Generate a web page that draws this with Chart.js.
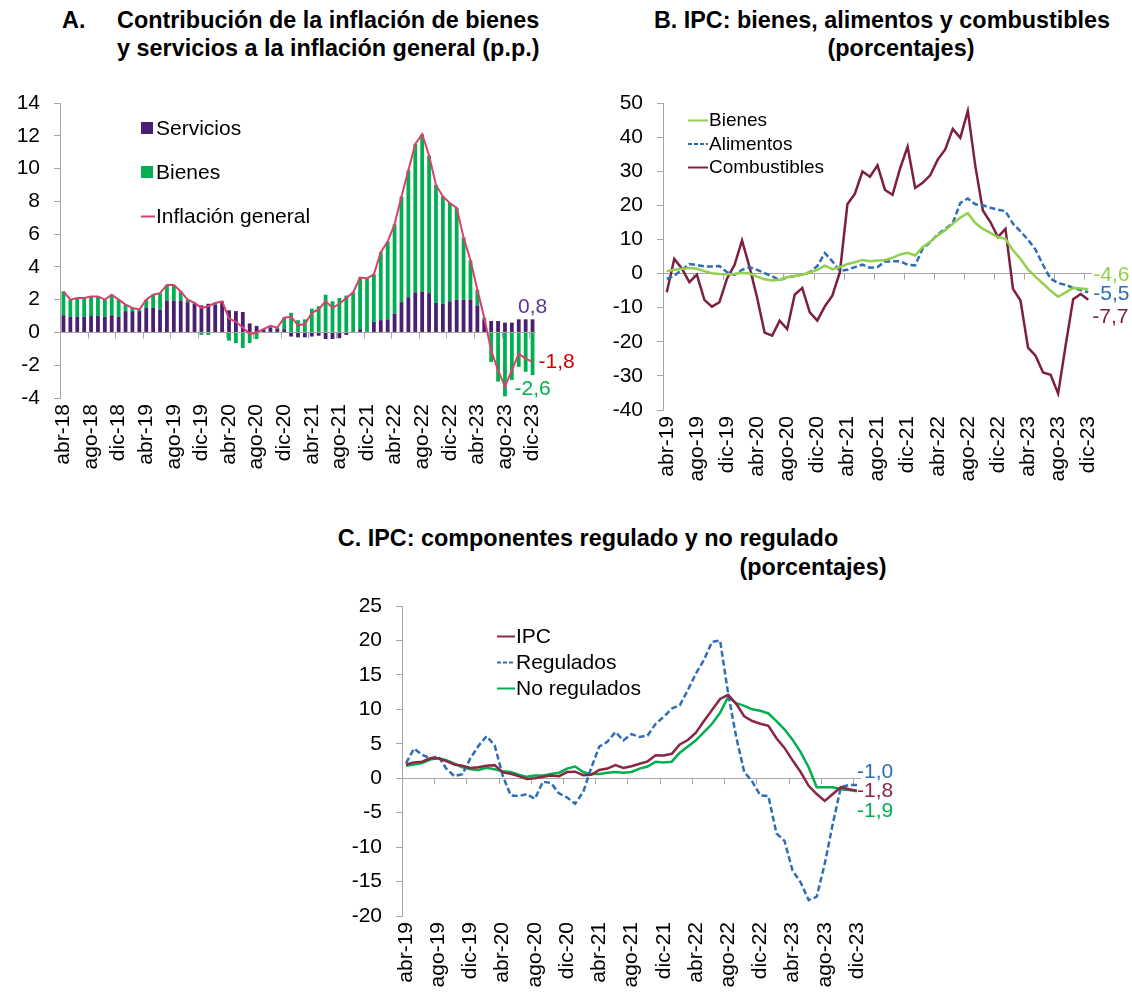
<!DOCTYPE html>
<html lang="es">
<head>
<meta charset="utf-8">
<title>Inflación: bienes, servicios y componentes</title>
<script src="https://cdn.jsdelivr.net/npm/chart.js@4.4.1/dist/chart.umd.min.js"></script>
<style>
  html, body { margin: 0; padding: 0; background: #fff; }
  body { position: relative; width: 1132px; height: 1000px; overflow: hidden; font-family: "Liberation Sans", Arial, sans-serif; }
  .ttl { position: absolute; font-weight: bold; font-size: 23.4px; line-height: 28px; white-space: nowrap; color: #000; }
  .ctr { width: 600px; text-align: center; }
  canvas { position: absolute; }
</style>
</head>
<body>
<div class="ttl" style="left:62px;top:6px">A.</div>
<div class="ttl" style="left:117px;top:6px">Contribución de la inflación de bienes</div>
<div class="ttl" style="left:117px;top:34px">y servicios a la inflación general (p.p.)</div>
<div class="ttl ctr" style="left:582px;top:6px">B. IPC: bienes, alimentos y combustibles</div>
<div class="ttl ctr" style="left:601px;top:34px">(porcentajes)</div>
<div class="ttl ctr" style="left:288px;top:524px">C. IPC: componentes regulado y no regulado</div>
<div class="ttl ctr" style="left:513px;top:553px">(porcentajes)</div>

<canvas id="chartA" width="600" height="400" style="left:0;top:90px;width:600px;height:400px"></canvas>
<canvas id="chartB" width="532" height="400" style="left:600px;top:90px;width:532px;height:400px"></canvas>
<canvas id="chartC" width="600" height="410" style="left:330px;top:590px;width:600px;height:410px"></canvas>

<script>
const MESES = ["ene", "feb", "mar", "abr", "may", "jun", "jul", "ago", "sep", "oct", "nov", "dic"];

// A: abr-18 .. dic-23 (p.p.)
const serviciosA = [
  1.05, 0.95, 0.95, 0.95, 1.0, 1.0, 0.95, 1.05, 0.95,
  1.3, 1.3, 1.3, 1.5, 1.5, 1.4, 1.95, 1.95, 1.95, 1.85, 1.75, 1.65,
  1.75, 1.7, 1.9, 1.35, 1.3, 1.25, 0.55, 0.4, 0.2, 0.3, 0.25, 0.2,
  -0.25, -0.3, -0.3, -0.25, -0.2, -0.4, -0.4, -0.35, -0.15, 0.0, 0.2, 0.05,
  0.65, 0.75, 0.8, 1.15, 1.85, 2.15, 2.45, 2.5, 2.4, 1.8, 1.75, 1.9,
  2.0, 2.0, 2.0, 1.65, 0.75, 0.7, 0.7, 0.6, 0.6, 0.8, 0.8, 0.8
];
const bienesA = [
  1.45, 1.05, 1.15, 1.15, 1.2, 1.2, 1.05, 1.25, 1.05,
  0.4, 0.2, 0.1, 0.5, 0.8, 1.0, 0.95, 0.95, 0.55, 0.15, 0.05, -0.15,
  -0.15, 0.1, 0.0, -0.5, -0.65, -0.95, -0.65, -0.4, 0.0, 0.1, 0.05, 0.7,
  1.2, 0.75, 0.8, 1.45, 1.6, 2.3, 1.9, 2.1, 2.25, 2.45, 3.15, 3.25,
  2.9, 4.15, 4.75, 5.45, 6.45, 7.75, 9.05, 9.6, 8.4, 7.2, 6.55, 6.0,
  5.6, 3.8, 2.4, 0.95, 0.15, -1.8, -3.0, -3.9, -2.9, -2.1, -2.4, -2.6
];
const generalA = [
  2.5, 2.0, 2.1, 2.1, 2.2, 2.2, 2.0, 2.3, 2.0,
  1.7, 1.5, 1.4, 2.0, 2.3, 2.4, 2.9, 2.9, 2.5, 2.0, 1.8, 1.5,
  1.6, 1.8, 1.9, 0.85, 0.65, 0.3, -0.1, 0.0, 0.2, 0.4, 0.3, 0.9,
  0.95, 0.45, 0.5, 1.2, 1.4, 1.9, 1.5, 1.75, 2.1, 2.45, 3.35, 3.3,
  3.55, 4.9, 5.55, 6.6, 8.3, 9.9, 11.5, 12.1, 10.8, 9.0, 8.3, 7.9,
  7.6, 5.8, 4.4, 2.6, 0.9, -1.1, -2.3, -3.3, -2.3, -1.3, -1.6, -1.8
];

// B: abr-19 .. dic-23 (%)
const bienesB = [
  0.7, 1.1, 1.4, 1.6, 1.4, 0.7, 0.1, -0.1, -0.2, -0.1,
  0.2, 0.0, -0.9, -1.7, -2.0, -1.8, -1.1, -0.7, -0.3, 0.3,
  1.1, 2.3, 1.3, 1.9, 2.8, 3.3, 4.0, 3.6, 3.8, 4.0,
  4.6, 5.6, 6.1, 5.3, 7.8, 9.3, 11.2, 12.7, 14.6, 16.4,
  17.7, 14.8, 13.1, 11.9, 10.7, 10.2, 6.8, 4.3, 1.2, -1.0,
  -3.0, -5.0, -6.8, -5.5, -4.2, -4.4, -4.6
];
const alimentosB = [
  -1.6, -0.6, 1.1, 2.8, 2.5, 2.1, 2.1, 2.2, 0.4, -0.4,
  1.1, 1.9, 1.1, 0.1, -0.8, -1.9, -1.1, -0.7, -0.3, 0.4,
  2.2, 6.0, 3.6, 0.8, 1.1, 1.9, 2.6, 1.7, 1.9, 3.5,
  3.6, 3.6, 2.6, 2.4, 7.3, 9.2, 11.5, 13.1, 14.8, 20.7,
  22.0, 20.3, 20.0, 19.3, 18.7, 18.3, 14.6, 12.4, 9.9, 7.0,
  2.5, -1.5, -2.8, -3.3, -4.2, -4.8, -5.5
];
const combustiblesB = [
  -5.5, 4.3, 1.5, -2.5, -0.3, -7.7, -9.7, -8.4, -1.5, 2.5,
  9.7, 1.9, -7.0, -17.3, -18.2, -13.8, -16.3, -6.2, -4.2, -11.4,
  -13.8, -9.6, -6.5, 0.4, 20.3, 23.4, 29.9, 28.4, 31.7, 24.5,
  23.1, 30.8, 37.2, 25.1, 26.6, 28.8, 33.4, 36.4, 42.4, 39.8,
  47.7, 31.5, 18.5, 15.1, 10.7, 13.1, -4.5, -7.9, -21.7, -24.1,
  -29.0, -29.7, -35.2, -21.0, -7.5, -6.0, -7.7
];

// C: abr-19 .. dic-23 (%)
const ipcC = [
  2.0, 2.3, 2.4, 2.9, 2.9, 2.5, 2.0, 1.8, 1.5, 1.6,
  1.8, 1.9, 0.85, 0.65, 0.3, -0.1, 0.0, 0.2, 0.4, 0.3,
  0.9, 0.95, 0.45, 0.5, 1.2, 1.4, 1.9, 1.5, 1.75, 2.1,
  2.45, 3.35, 3.3, 3.55, 4.9, 5.55, 6.6, 8.3, 9.9, 11.5,
  12.1, 10.8, 9.0, 8.3, 7.9, 7.6, 5.8, 4.4, 2.6, 0.9,
  -1.1, -2.3, -3.3, -2.3, -1.3, -1.6, -1.8
];
const reguladosC = [
  2.2, 4.3, 3.4, 2.9, 3.2, 1.4, 0.3, 0.6, 2.9, 4.7,
  6.1, 4.8, 0.4, -2.5, -2.6, -2.3, -3.0, -0.5, -0.7, -2.2,
  -2.8, -3.7, -2.0, 1.5, 4.6, 5.3, 6.7, 5.5, 6.4, 6.0,
  6.2, 7.9, 8.9, 10.1, 10.6, 12.8, 15.2, 17.2, 19.8, 20.0,
  12.3, 6.0, 0.9, -0.5, -2.5, -2.6, -8.0, -9.1, -13.4, -15.1,
  -17.7, -17.2, -12.4, -6.6, -1.3, -1.0, -1.0
];
const noReguladosC = [
  1.8, 2.0, 2.2, 2.7, 2.9, 2.6, 2.1, 1.6, 1.3, 1.2,
  1.5, 1.3, 1.0, 0.9, 0.5, 0.2, 0.4, 0.4, 0.6, 0.8,
  1.4, 1.7, 0.9, 0.6, 0.6, 0.8, 0.9, 0.8, 0.9, 1.4,
  1.7, 2.4, 2.3, 2.4, 3.7, 4.6, 5.5, 6.7, 7.9, 9.5,
  11.8, 10.9, 10.5, 10.0, 9.8, 9.4, 8.3, 7.1, 5.6, 3.8,
  1.6, -1.3, -1.3, -1.3, -1.6, -1.7, -1.9
];

(function () {
    const FONT = '"Liberation Sans", Arial, sans-serif';
    const AXIS = "#a6a6a6";
    const COL = {
        servicios: "#4b1f6f",
        bienesA: "#00b050",
        general: "#d9406b",
        generalTxt: "#d00000",
        serviciosTxt: "#5b3a8e",
        bienesB: "#92d050",
        alimentos: "#2f6eb5",
        combustibles: "#7d2040",
        ipc: "#8b2644",
        noRegulados: "#00b050",
    };

    Chart.defaults.font.family = FONT;
    Chart.defaults.color = "#000";

    function monthLabels(year, month, count) {
        const out = [];
        for (let k = 0; k < count; k++) {
            const m = (month + k) % 12;
            const y = year + Math.floor((month + k) / 12);
            out.push(MESES[m] + "-" + String(y).slice(2));
        }
        return out;
    }
    const mesesA = monthLabels(2018, 3, serviciosA.length);
    const mesesBC = monthLabels(2019, 3, bienesB.length);

    function xScale(labels, height) {
        return {
            offset: true,
            grid: { display: false, drawTicks: false },
            border: { display: false },
            ticks: {
                autoSkip: false,
                minRotation: 90,
                maxRotation: 90,
                padding: 6,
                font: { size: 21 },
                callback: (v, i) => (i % 4 === 0 ? labels[i] : ""),
            },
            afterFit(s) {
                s.height = height;
                s.paddingLeft = 0;
                s.paddingRight = 0;
            },
        };
    }

    function yScale(min, max, step, width) {
        return {
            min: min,
            max: max,
            ticks: { stepSize: step, padding: 14, font: { size: 21 } },
            grid: {
                color: (c) => (c.tick && c.tick.value === 0 ? AXIS : "transparent"),
                tickColor: AXIS,
                tickLength: 6,
            },
            border: { color: AXIS },
            /* pin the plot box: no extra room for half-height end labels */
            afterFit(s) {
                s.width = width;
                s.paddingTop = 0;
                s.paddingBottom = 0;
            },
        };
    }

    /* short marks hanging from the zero line, every 4 months (between categories) */
    function zeroTicks(every) {
        return {
            id: "zeroTicks",
            beforeDatasetsDraw(chart) {
                const x = chart.scales.x, y = chart.scales.y;
                const y0 = y.getPixelForValue(0);
                const ctx = chart.ctx;
                ctx.save();
                ctx.strokeStyle = AXIS;
                ctx.lineWidth = 1;
                ctx.beginPath();
                for (let i = every; i < chart.data.labels.length; i += every) {
                    const px = Math.round((x.getPixelForValue(i - 1) + x.getPixelForValue(i)) / 2) + 0.5;
                    ctx.moveTo(px, y0);
                    ctx.lineTo(px, y0 + 6);
                }
                ctx.stroke();
                ctx.restore();
            },
        };
    }

    function legendBox(o) {
        return {
            id: "legendBox",
            afterDraw(chart) {
                const ctx = chart.ctx;
                ctx.save();
                ctx.font = o.size + "px " + FONT;
                ctx.textBaseline = "middle";
                ctx.textAlign = "left";
                chart.data.datasets.forEach((ds, i) => {
                    const cy = o.y + i * o.gap;
                    const isLine = ds.type === "line" || (!ds.type && chart.config.type === "line");
                    if (isLine) {
                        ctx.strokeStyle = ds.borderColor;
                        ctx.lineWidth = 2;
                        ctx.setLineDash(ds.borderDash ? [4, 2] : []);
                        ctx.beginPath();
                        ctx.moveTo(o.x, cy + 0.5);
                        ctx.lineTo(o.x + o.marker, cy + 0.5);
                        ctx.stroke();
                        ctx.setLineDash([]);
                    } else {
                        ctx.fillStyle = ds.backgroundColor;
                        ctx.fillRect(o.x, cy - 6, 12, 12);
                    }
                    ctx.fillStyle = "#000";
                    ctx.fillText(ds.label, o.x + (isLine ? o.marker : 14) + 1, cy + 1);
                });
                ctx.restore();
            },
        };
    }

    function endLabels(items) {
        return {
            id: "endLabels",
            afterDraw(chart) {
                const ctx = chart.ctx;
                ctx.save();
                ctx.font = "21px " + FONT;
                items.forEach((it) => {
                    const meta = chart.getDatasetMeta(it.ds);
                    const data = chart.data.datasets[it.ds].data;
                    const el = meta.data[data.length - 1];
                    const v = data[data.length - 1];
                    ctx.fillStyle = it.color;
                    ctx.textAlign = it.align;
                    ctx.textBaseline = it.baseline;
                    ctx.fillText(v.toFixed(1).replace(".", ","), el.x + it.dx, el.y + it.dy);
                });
                ctx.restore();
            },
        };
    }

    function lineDs(label, data, color, dashed) {
        return {
            label: label,
            data: data,
            borderColor: color,
            backgroundColor: color,
            borderWidth: 2.5,
            borderDash: dashed ? [6, 3] : undefined,
            pointRadius: 0,
            tension: 0,
        };
    }

    const common = {
        responsive: false,
        animation: false,
        events: [],
    };

    // A. contributions
    new Chart(document.getElementById("chartA"), {
        type: "bar",
        data: {
            labels: mesesA,
            datasets: [
                { label: "Servicios", data: serviciosA, backgroundColor: COL.servicios, order: 1,
                  barPercentage: 0.55, categoryPercentage: 1 },
                { label: "Bienes", data: bienesA, backgroundColor: COL.bienesA, order: 1,
                  barPercentage: 0.55, categoryPercentage: 1 },
                { type: "line", label: "Inflación general", data: generalA, borderColor: COL.general,
                  borderWidth: 2, pointRadius: 0, tension: 0, order: 0 },
            ],
        },
        options: Object.assign({}, common, {
            layout: { padding: { top: 13, right: 64, bottom: 20, left: 0 } },
            plugins: { legend: { display: false }, tooltip: { enabled: false } },
            scales: {
                x: Object.assign(xScale(mesesA, 72), { stacked: true }),
                y: Object.assign(yScale(-4, 14, 2, 60), { stacked: true }),
            },
        }),
        plugins: [
            zeroTicks(4),
            legendBox({ x: 141, y: 38, gap: 44, marker: 14, size: 21 }),
            endLabels([
                { ds: 0, color: COL.serviciosTxt, align: "center", baseline: "bottom", dx: 0, dy: -2 },
                { ds: 2, color: COL.generalTxt, align: "left", baseline: "middle", dx: 6, dy: 0 },
                { ds: 1, color: COL.bienesA, align: "center", baseline: "top", dx: 0, dy: 4 },
            ]),
        ],
    });

    // B. goods, food, fuel
    new Chart(document.getElementById("chartB"), {
        type: "line",
        data: {
            labels: mesesBC,
            datasets: [
                lineDs("Bienes", bienesB, COL.bienesB, false),
                lineDs("Alimentos", alimentosB, COL.alimentos, true),
                lineDs("Combustibles", combustiblesB, COL.combustibles, false),
            ],
        },
        options: Object.assign({}, common, {
            layout: { padding: { top: 13, right: 40, bottom: 8, left: 0 } },
            plugins: { legend: { display: false }, tooltip: { enabled: false } },
            scales: { x: xScale(mesesBC, 72), y: yScale(-40, 50, 10, 63) },
        }),
        plugins: [
            zeroTicks(4),
            legendBox({ x: 88, y: 30, gap: 23.5, marker: 20, size: 19 }),
            endLabels([
                { ds: 0, color: COL.bienesB, align: "left", baseline: "middle", dx: 5, dy: -14 },
                { ds: 1, color: COL.alimentos, align: "left", baseline: "middle", dx: 5, dy: 2 },
                { ds: 2, color: COL.combustibles, align: "left", baseline: "middle", dx: 4, dy: 17 },
            ]),
        ],
    });

    // C. regulated vs non-regulated
    new Chart(document.getElementById("chartC"), {
        type: "line",
        data: {
            labels: mesesBC,
            datasets: [
                lineDs("IPC", ipcC, COL.ipc, false),
                lineDs("Regulados", reguladosC, COL.alimentos, true),
                lineDs("No regulados", noReguladosC, COL.noRegulados, false),
            ],
        },
        options: Object.assign({}, common, {
            layout: { padding: { top: 16, right: 69, bottom: 12, left: 0 } },
            plugins: { legend: { display: false }, tooltip: { enabled: false } },
            scales: { x: xScale(mesesBC, 72), y: yScale(-20, 25, 5, 72) },
        }),
        plugins: [
            zeroTicks(4),
            legendBox({ x: 167, y: 46, gap: 26, marker: 18, size: 21 }),
            endLabels([
                { ds: 1, color: COL.alimentos, align: "left", baseline: "middle", dx: 0, dy: -13 },
                { ds: 0, color: COL.ipc, align: "left", baseline: "middle", dx: 0, dy: 1 },
                { ds: 2, color: COL.noRegulados, align: "left", baseline: "middle", dx: 0, dy: 20 },
            ]),
        ],
    });
})();
</script>
</body>
</html>
